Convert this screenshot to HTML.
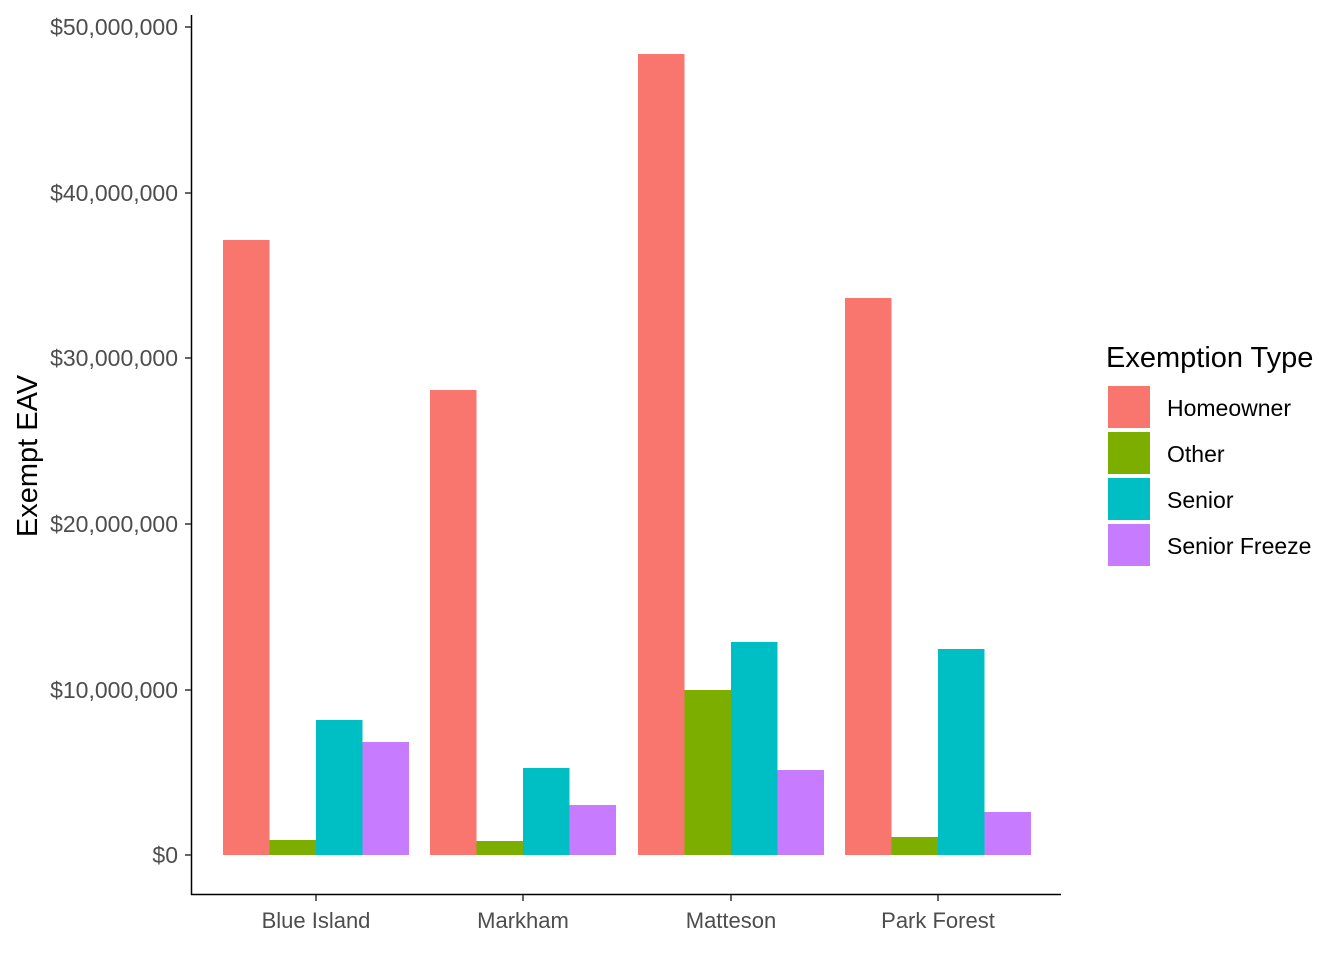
<!DOCTYPE html>
<html><head><meta charset="utf-8"><style>
html,body{margin:0;padding:0;background:#fff}
svg{display:block}
text{font-family:"Liberation Sans",Arial,sans-serif}
</style></head><body>
<svg width="1344" height="960" viewBox="0 0 1344 960" xmlns="http://www.w3.org/2000/svg">
<rect width="1344" height="960" fill="#fff"/>
<g>
<rect x="223" y="240" width="46.5" height="615" fill="#F8766D"/>
<rect x="269.5" y="840" width="46.5" height="15" fill="#7CAE00"/>
<rect x="316" y="720" width="46.5" height="135" fill="#00BFC4"/>
<rect x="362.5" y="742" width="46.5" height="113" fill="#C77CFF"/>

<rect x="430" y="390" width="46.5" height="465" fill="#F8766D"/>
<rect x="476.5" y="841" width="46.5" height="14" fill="#7CAE00"/>
<rect x="523" y="768" width="46.5" height="87" fill="#00BFC4"/>
<rect x="569.5" y="805" width="46.5" height="50" fill="#C77CFF"/>

<rect x="638" y="54" width="46.5" height="801" fill="#F8766D"/>
<rect x="684.5" y="690" width="46.5" height="165" fill="#7CAE00"/>
<rect x="731" y="642" width="46.5" height="213" fill="#00BFC4"/>
<rect x="777.5" y="770" width="46.5" height="85" fill="#C77CFF"/>

<rect x="845" y="298" width="46.5" height="557" fill="#F8766D"/>
<rect x="891.5" y="837" width="46.5" height="18" fill="#7CAE00"/>
<rect x="938" y="649" width="46.5" height="206" fill="#00BFC4"/>
<rect x="984.5" y="812" width="46.5" height="43" fill="#C77CFF"/>
</g>
<line x1="191.5" y1="15" x2="191.5" y2="895" stroke="#000" stroke-width="1.5"/>
<line x1="191" y1="894.5" x2="1061" y2="894.5" stroke="#000" stroke-width="1.5"/>
<g stroke="#333" stroke-width="1.5">
<line x1="185" y1="855" x2="191" y2="855"/>
<line x1="185" y1="690" x2="191" y2="690"/>
<line x1="185" y1="524" x2="191" y2="524"/>
<line x1="185" y1="358" x2="191" y2="358"/>
<line x1="185" y1="193" x2="191" y2="193"/>
<line x1="185" y1="27" x2="191" y2="27"/>
<line x1="316" y1="895" x2="316" y2="901"/>
<line x1="523" y1="895" x2="523" y2="901"/>
<line x1="731" y1="895" x2="731" y2="901"/>
<line x1="938" y1="895" x2="938" y2="901"/>
</g>
<g fill="#4d4d4d" font-size="23" text-anchor="end">
<text x="178" y="863">$0</text>
<text x="178" y="698">$10,000,000</text>
<text x="178" y="532">$20,000,000</text>
<text x="178" y="366">$30,000,000</text>
<text x="178" y="201">$40,000,000</text>
<text x="178" y="35">$50,000,000</text>
</g>
<g fill="#4d4d4d" font-size="22" text-anchor="middle">
<text x="316" y="928">Blue Island</text>
<text x="523" y="928">Markham</text>
<text x="731" y="928">Matteson</text>
<text x="938" y="928">Park Forest</text>
</g>
<text transform="translate(37,456) rotate(-90)" font-size="29" text-anchor="middle" fill="#000">Exempt EAV</text>
<text x="1106" y="367" font-size="29" fill="#000">Exemption Type</text>
<rect x="1108" y="386" width="42" height="42" fill="#F8766D"/>
<rect x="1108" y="432" width="42" height="42" fill="#7CAE00"/>
<rect x="1108" y="478" width="42" height="42" fill="#00BFC4"/>
<rect x="1108" y="524" width="42" height="42" fill="#C77CFF"/>
<g font-size="23" fill="#000">
<text x="1167" y="416">Homeowner</text>
<text x="1167" y="462">Other</text>
<text x="1167" y="508">Senior</text>
<text x="1167" y="554">Senior Freeze</text>
</g>
</svg>
</body></html>
